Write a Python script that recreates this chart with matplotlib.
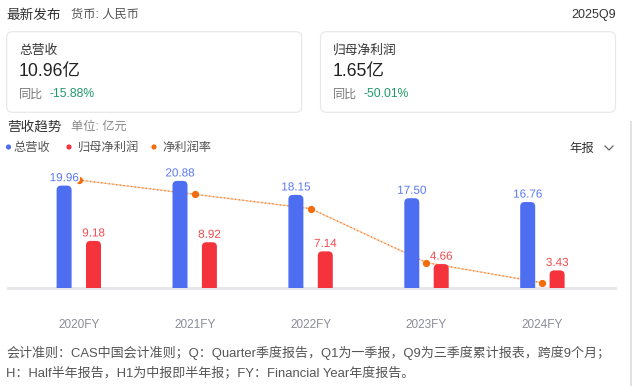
import matplotlib
matplotlib.use("Agg")
import matplotlib.pyplot as plt
from matplotlib.patches import FancyBboxPatch, Circle
from matplotlib.lines import Line2D
from matplotlib.transforms import Affine2D
import matplotlib.patheffects as pe

# ---------------- data ----------------
categories = ["2020FY", "2021FY", "2022FY", "2023FY", "2024FY"]
revenue = [19.96, 20.88, 18.15, 17.50, 16.76]          # 总营收 (亿元)
net_profit = [9.18, 8.92, 7.14, 4.66, 3.43]             # 归母净利润 (亿元)
net_margin = [46.0, 42.45, 38.9, 25.5, 20.5]            # 净利润率 (%)
rev_label = [f"{v:.2f}" for v in revenue]
np_label = [f"{v:.2f}" for v in net_profit]

W, H = 632, 386
fig = plt.figure(figsize=(W / 100, H / 100), dpi=100)
fig.patch.set_facecolor("white")

# pixel transform (origin bottom-left)
px = Affine2D().scale(1 / 100) + fig.dpi_scale_trans

CJK = ["Noto Sans CJK SC", "DejaVu Sans"]
MIX = ["Liberation Sans", "Noto Sans CJK SC", "DejaVu Sans"]


def t(x, y, s, size, color, family=MIX, ha="left", va="center", **kw):
    return fig.text(x, H - y, s, transform=px, fontsize=size, color=color,
                    family=family, ha=ha, va=va, **kw)


BLUE = "#4e6ef2"
RED = "#f5333c"
ORANGE = "#f26d0d"

# ---------------- header ----------------
t(6.7, 15, "最新发布", 9.8, "#333333", CJK)
t(71, 15, "货币: 人民币", 8.8, "#555555")
t(616, 15, "2025Q9", 9.0, "#333333", ha="right")

# cards
for x0 in (6.7, 320.5):
    card = FancyBboxPatch((x0, H - 112.3), 295, 80.6,
                          boxstyle="round,pad=0,rounding_size=6",
                          transform=px, facecolor="white",
                          edgecolor="#e8e8ec", linewidth=0.9)
    fig.patches.append(card)

cards = [("总营收", "10.96亿", "-15.88%", 19),
         ("归母净利润", "1.65亿", "-50.01%", 333)]
for title, val, yoy, x0 in cards:
    t(x0, 50.7, title, 9.2, "#333333", CJK)
    t(x0, 71.7, val, 12.7, "#222222")
    t(x0, 94, "同比", 8.7, "#777777", CJK)
    t(x0 + 31, 94, yoy, 8.7, "#1f9a6c")

# section title
t(6.7, 127, "营收趋势", 9.8, "#333333", CJK)
t(71, 127, "单位: 亿元", 8.8, "#888888")

# legend
legend_items = [("总营收", BLUE, 8.5, 13.3),
                ("归母净利润", RED, 69, 78.3),
                ("净利润率", ORANGE, 154, 162.3)]
for name, col, dx, tx in legend_items:
    fig.patches.append(Circle((dx, H - 147), 2.6, transform=px,
                              facecolor=col, edgecolor="none"))
    t(tx, 147, name, 8.8, "#555555", CJK)

# 年报 selector
t(569.3, 148, "年报", 8.9, "#333333", CJK)
fig.lines.append(Line2D([605, 609, 613], [H - 146, H - 150, H - 146],
                        transform=px, color="#666666", linewidth=0.9))

# right border line
fig.lines.append(Line2D([630.5, 630.5], [0, H - 122], transform=px,
                        color="#e2e2e6", linewidth=1.5))

# ---------------- chart ----------------
ax_l, ax_r, ax_b, ax_t = 8, 615, 288, 170
ax = fig.add_axes([ax_l / W, (H - ax_b) / H, (ax_r - ax_l) / W, (ax_b - ax_t) / H])
ax2 = ax.twinx()

cat_px0, cat_step = 78.8, 115.9
xl = (ax_l - cat_px0) / cat_step
xr = (ax_r - cat_px0) / cat_step
ax.set_xlim(xl, xr)
ax.set_ylim(0, (ax_b - ax_t) / 5.13)
m_scale = 4.03
m_lo = 46.0 - (ax_b - 180) / m_scale
ax2.set_ylim(m_lo, m_lo + (ax_b - ax_t) / m_scale)

ax.set_zorder(ax2.get_zorder() + 1)
ax.patch.set_visible(False)

xs = list(range(len(categories)))
bw = 15 / cat_step
off = 14.7 / cat_step

# rounded bars
x_per_px = (xr - xl) / (ax_r - ax_l)
y_per_px = ax.get_ylim()[1] / (ax_b - ax_t)
aspect = y_per_px / x_per_px
r_x = 4.5 * x_per_px
r_y = 4.5 * y_per_px

bars_b = ax.bar([x - off for x in xs], revenue, width=bw, color=BLUE)
bars_r = ax.bar([x + off for x in xs], net_profit, width=bw, color=RED)
for bars, col in ((bars_b, BLUE), (bars_r, RED)):
    for rect in bars:
        rect.set_visible(False)
        p = FancyBboxPatch((rect.get_x(), -r_y * 2), rect.get_width(),
                           rect.get_height() + r_y * 2,
                           boxstyle=f"round,pad=0,rounding_size={r_x}",
                           mutation_aspect=aspect, facecolor=col,
                           edgecolor="none", zorder=2)
        ax.add_patch(p)

# value labels
halo = [pe.withStroke(linewidth=2.5, foreground="white")]
for x, v, s in zip(xs, revenue, rev_label):
    ax.annotate(s, (x - off, v), xytext=(0, 3.2), textcoords="offset points",
                ha="center", va="baseline", fontsize=8.4, color="#5b78f2",
                family=MIX, zorder=5, path_effects=halo)
for x, v, s in zip(xs, net_profit, np_label):
    ax.annotate(s, (x + off, v), xytext=(0, 3.2), textcoords="offset points",
                ha="center", va="baseline", fontsize=8.4, color="#f04a4f",
                family=MIX, zorder=5, path_effects=halo)

# baseline
ax.axhline(0, color="#e8e8ec", linewidth=2.2, clip_on=False, zorder=1)

# margin line
ax2.plot(xs, net_margin, color="#fbd0b0", linewidth=1.0, zorder=2)
ax2.plot(xs, net_margin, color=ORANGE, linewidth=0.9, linestyle=(0, (1, 2)),
         alpha=0.85, zorder=3)
ax2.plot(xs, net_margin, linestyle="none", marker="o", markersize=4.2,
         markerfacecolor=ORANGE, markeredgecolor=ORANGE, zorder=4,
         clip_on=False)

# axes styling
for a in (ax, ax2):
    for s in a.spines.values():
        s.set_visible(False)
    a.set_yticks([])
ax2.tick_params(axis="x", length=0, labelbottom=False)
ax.set_xticks(xs)
ax.set_xticklabels(categories, family=MIX, fontsize=8.5, color="#8c8c99")
ax.tick_params(axis="x", length=0, pad=22.5)

# ---------------- footnote ----------------
t(6, 353, "会计准则：CAS中国会计准则；Q：Quarter季度报告，Q1为一季报，Q9为三季度累计报表，跨度9个月；",
  9.4, "#555555")
t(6, 374, "H：Half半年报告，H1为中报即半年报；FY：Financial Year年度报告。", 9.4, "#555555")

fig.savefig("out.png", dpi=100, facecolor="white")
